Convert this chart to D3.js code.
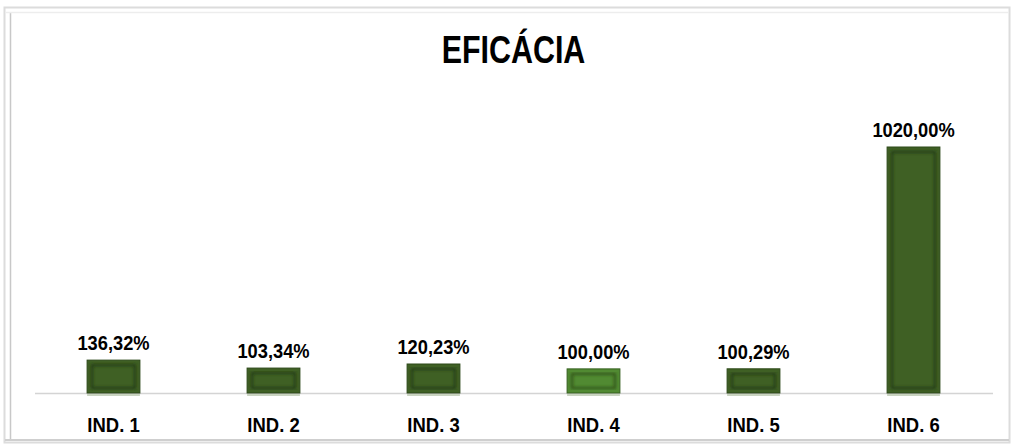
<html>
<head>
<meta charset="utf-8">
<title>EFICÁCIA</title>
<style>
	body { margin: 0; background: #ffffff; }
	.MyText { font-family: "Liberation Sans", Arial, sans-serif; font-weight: bold; fill: #000000; text-anchor: middle; }
</style>
</head>
<body>
<script src="https://cdn.jsdelivr.net/npm/d3@7"></script>
<script>
	var width = 1014;
	var height = 447;

	// dados
	var categorias = ["IND. 1", "IND. 2", "IND. 3", "IND. 4", "IND. 5", "IND. 6"];
	var valores = [136.32, 103.34, 120.23, 100.00, 100.29, 1020.00];
	var rotulos = ["136,32%", "103,34%", "120,23%", "100,00%", "100,29%", "1020,00%"];
	var titulo = "EFICÁCIA";

	var dados = categorias.map(function(c, i){ return {cat:c, v:valores[i], rot:rotulos[i], i:i}; });

	var svg = d3.select("body")
		.append("svg")
		.attr("width", width)
		.attr("height", height);

	var defs = svg.append("defs");
	defs.append("filter").attr("id", "blur")
		.append("feGaussianBlur").attr("stdDeviation", 1.5);

	// moldura
	svg.append("rect")
		.attr("x", 4.5).attr("y", 7.5)
		.attr("width", 1005).attr("height", 435)
		.attr("fill", "none").attr("stroke", "#dcdcdc").attr("stroke-width", 2);
	svg.append("line")
		.attr("x1", 10.5).attr("x2", 10.5).attr("y1", 12).attr("y2", 440)
		.attr("stroke", "#c8c8c8").attr("stroke-width", 1.5);
	svg.append("line")
		.attr("x1", 5).attr("x2", 1009).attr("y1", 12.5).attr("y2", 12.5)
		.attr("stroke", "#ededed").attr("stroke-width", 1.5);
	svg.append("line")
		.attr("x1", 5).attr("x2", 1009).attr("y1", 440).attr("y2", 440)
		.attr("stroke", "#cfcfcf").attr("stroke-width", 2);

	var x = d3.scaleBand()
		.domain(categorias)
		.range([33.5, 993.5])
		.paddingInner(0.67)
		.paddingOuter(0.335);

	var y = d3.scaleLinear()
		.domain([0, 1020])
		.range([393, 147]);

	// texto estreito: fonte normal comprimida na horizontal
	function estreito(sel, sx){
		sel.attr("transform", function(){
			var t = d3.select(this);
			return "translate(" + t.attr("data-x") + "," + t.attr("data-y") + ") scale(" + sx + ",1)";
		});
	}

	// título
	svg.append("text")
		.attr("class", "MyText")
		.attr("data-x", 513.5)
		.attr("data-y", 63)
		.attr("font-size", 39)
		.text(titulo)
		.call(estreito, 0.78);

	// eixo
	svg.append("line")
		.attr("x1", 35).attr("x2", 993)
		.attr("y1", y(0) + 0.5).attr("y2", y(0) + 0.5)
		.attr("stroke", "#d4d4d4").attr("stroke-width", 1.5);

	var bw = x.bandwidth();

	var barras = svg.selectAll(".Barra")
		.data(dados)
		.enter()
		.append("g")
		.attr("class", "Barra")
		.attr("transform", function(d){ return "translate(" + x(d.cat) + "," + y(d.v) + ")"; });

	// reflexo claro sob a barra
	barras.append("rect")
		.attr("x", 0).attr("y", function(d){ return y(0) - y(d.v) + 1; })
		.attr("width", bw).attr("height", 2)
		.attr("fill", "#c9d3c0");

	barras.append("rect")
		.attr("width", bw)
		.attr("height", function(d){ return y(0) - y(d.v); })
		.attr("fill", function(d){ return d.i == 3 ? "#518a32" : "#3f6024"; })
		.attr("stroke", function(d){ return d.i == 3 ? "#36601f" : "#2c4818"; })
		.attr("stroke-width", 1);

	// bisel interno
	barras.append("rect")
		.attr("x", 5).attr("y", 5)
		.attr("width", bw - 10)
		.attr("height", function(d){ return Math.max(0, y(0) - y(d.v) - 10); })
		.attr("fill", "none")
		.attr("stroke", function(d){ return d.i == 3 ? "#2d4f19" : "#213812"; })
		.attr("stroke-width", 2)
		.attr("filter", "url(#blur)");

	// rótulos de valor
	svg.selectAll(".ValText")
		.data(dados)
		.enter()
		.append("text")
		.attr("class", "MyText ValText")
		.attr("data-x", function(d){ return x(d.cat) + bw / 2; })
		.attr("data-y", function(d){ return y(d.v) - 10; })
		.attr("font-size", 21)
		.text(function(d){ return d.rot; })
		.call(estreito, 0.87);

	// rótulos das categorias
	svg.selectAll(".CatText")
		.data(dados)
		.enter()
		.append("text")
		.attr("class", "MyText CatText")
		.attr("data-x", function(d){ return x(d.cat) + bw / 2; })
		.attr("data-y", 432)
		.attr("font-size", 21)
		.text(function(d){ return d.cat; })
		.call(estreito, 0.88);
</script>
</body>
</html>
